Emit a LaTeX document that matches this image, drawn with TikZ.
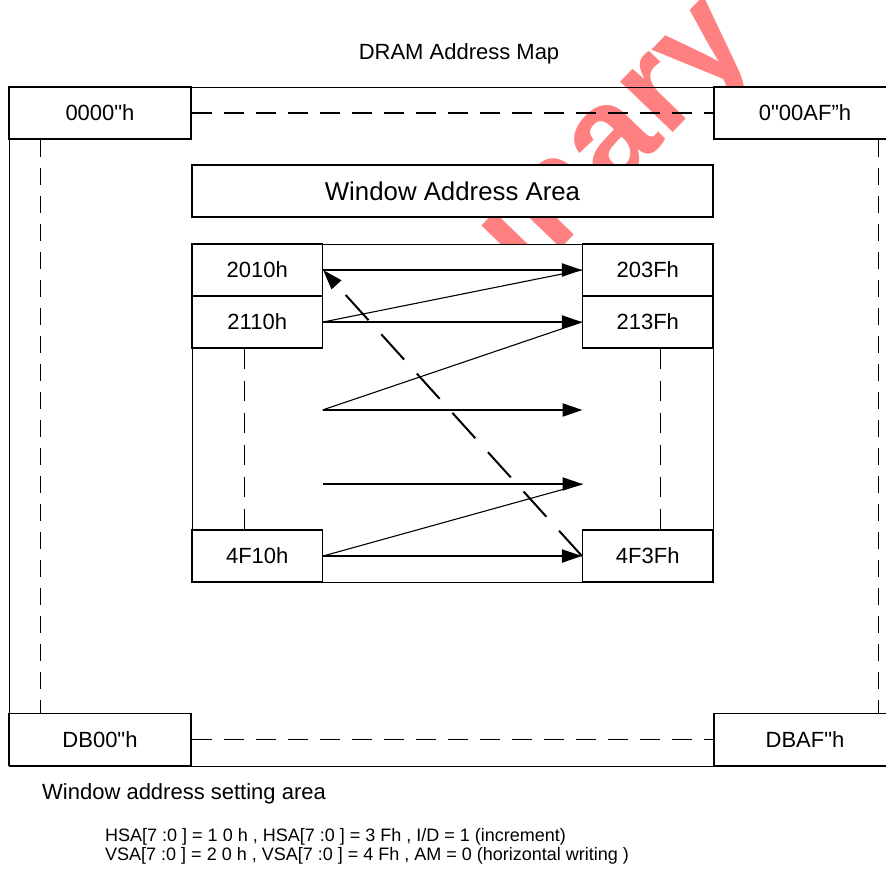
\documentclass[tikz,border=0pt]{standalone}
\usepackage{fontspec}
\setmainfont{Liberation Sans}[Ligatures=TeXOff]
\usetikzlibrary{arrows.meta}
\definecolor{wmred}{RGB}{255,128,128}
\begin{document}
\begin{tikzpicture}[x=1pt,y=-1pt,
  box/.style={draw, fill=white, line width=1.2pt, inner sep=0pt, minimum height=52pt, font=\fontsize{22}{26}\selectfont},
  cornerbox/.style={box, minimum width=182pt},
  cellbox/.style={box, minimum width=130.5pt},
  guideh/.style={line width=1.2pt, dash pattern=on 20pt off 12pt},
  guidev/.style={line width=1.2pt, dash pattern=on 17pt off 11pt},
  flow/.style={line width=2.2pt, -{Triangle[length=20pt,width=13pt]}},
  link/.style={line width=1.1pt},
  wrapback/.style={line width=2pt, dash pattern=on 34pt off 19pt, -{Triangle[length=20pt,width=13pt]}},
  lbl/.style={font=\fontsize{22}{26}\selectfont, inner sep=0pt},
]
\useasboundingbox (0,0) rectangle (886,868);
\clip (0,0) rectangle (886,868);

% watermark (behind everything, only its upper part shows)
\begin{scope}
\clip (192,0) rectangle (886,244);
\node[rotate=46, anchor=base east, inner sep=0pt, text=wmred, font=\bfseries\fontsize{138}{138}\selectfont] (wm) at (757,46) {Preliminary};
\end{scope}

% title
\node[lbl] (title) at (459,54) {DRAM Address Map};

% outer DRAM area
\node[draw, line width=1.2pt, minimum width=888pt, minimum height=679pt, inner sep=0pt, anchor=north west] (dram) at (9,87) {};

\node[cornerbox] (tl) at (100,113) {0000"h};
\node[cornerbox] (tr) at (805,113) {0"00AF”h};
\node[cornerbox] (bl) at (100,739.5) {DB00"h};
\node[cornerbox] (br) at (805,739.5) {DBAF"h};

\draw[guideh] (tl.east) -- (tr.west);
\draw[guideh] (bl.east) -- (br.west);
\draw[guidev] ([xshift=32pt]tl.south west) -- ([xshift=32pt]bl.north west);
\draw[guidev] ([xshift=-18pt]tr.south east) -- ([xshift=-18pt]br.north east);

% window address area
\node[box, minimum width=521pt, font=\fontsize{25.8}{30}\selectfont] (waa) at (452.5,191) {Window Address Area};

\node[draw, fill=white, line width=1.2pt, minimum width=521pt, minimum height=338pt, inner sep=0pt, anchor=north west] (win) at (192,244) {};

\node[cellbox] (c2010) at (257.25,270) {2010h};
\node[cellbox] (c2110) at (257.25,322) {2110h};
\node[cellbox] (c4F10) at (257.25,556) {4F10h};
\node[cellbox] (c203F) at (647.75,270) {203Fh};
\node[cellbox] (c213F) at (647.75,322) {213Fh};
\node[cellbox] (c4F3F) at (647.75,556) {4F3Fh};

\coordinate (m1l) at (322.5,410);
\coordinate (m1r) at (582.5,410);
\coordinate (m2l) at (322.5,484);
\coordinate (m2r) at (582.5,484);

\draw[guideh] ([xshift=-13pt]c2110.south) -- ([xshift=-13pt]c4F10.north);
\draw[guideh] ([xshift=13pt]c213F.south) -- ([xshift=13pt]c4F3F.north);

\draw[flow] (c2010.east) -- (c203F.west);
\draw[flow] (c2110.east) -- (c213F.west);
\draw[flow] (m1l) -- (m1r);
\draw[flow] (m2l) -- (m2r);
\draw[flow] (c4F10.east) -- (c4F3F.west);

\draw[link] (c2110.east) -- (c203F.west);
\draw[link] (m1l) -- (c213F.west);
\draw[link] (c4F10.east) -- (m2r);

\draw[wrapback] (c4F3F.west) -- (c2010.east);

% notes
\node[lbl, anchor=west] (cap) at (42,794) {Window address setting area};
\node[anchor=north west, align=left, inner sep=0pt, font=\fontsize{18}{19}\selectfont] (eq) at (105,828) {HSA[7 :0 ] = 1 0 h , HSA[7 :0 ] = 3 Fh , I/D = 1 (increment)\\VSA[7 :0 ] = 2 0 h , VSA[7 :0 ] = 4 Fh , AM = 0 (horizontal writing )};
\end{tikzpicture}
\end{document}
